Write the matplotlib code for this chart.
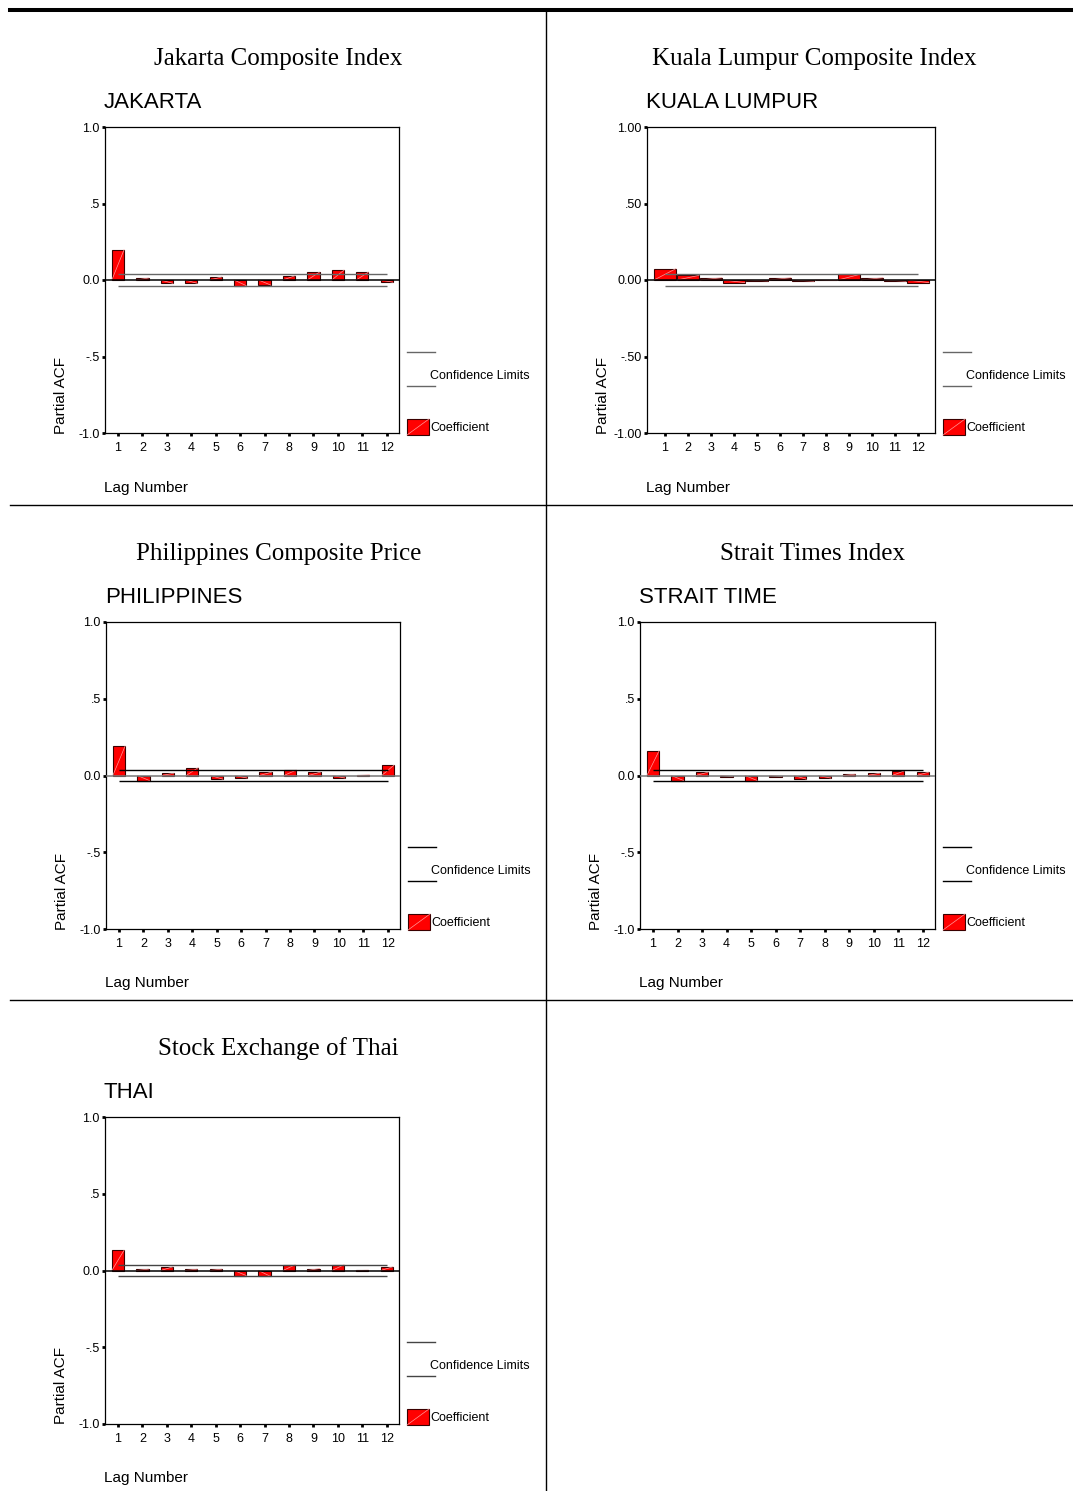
import matplotlib
matplotlib.use("Agg")
import matplotlib.pyplot as plt
from matplotlib.lines import Line2D
from matplotlib.patches import Rectangle

plt.rcParams['font.family'] = ['Liberation Sans', 'DejaVu Sans']

# ---- data ----
lags = [1, 2, 3, 4, 5, 6, 7, 8, 9, 10, 11, 12]

jakarta_pacf = [0.198, 0.013, -0.022, -0.022, 0.020, -0.037, -0.033, 0.028, 0.052, 0.065, 0.052, -0.015]
kuala_pacf = [0.074, 0.030, 0.015, -0.017, -0.006, 0.015, -0.008, -0.003, 0.037, 0.015, -0.008, -0.017]
phil_pacf = [0.191, -0.033, 0.015, 0.052, -0.024, -0.017, 0.022, 0.035, 0.022, -0.017, 0.004, 0.067]
strait_pacf = [0.161, -0.033, 0.022, -0.007, -0.033, -0.007, -0.024, -0.017, 0.009, 0.015, 0.030, 0.022]
thai_pacf = [0.132, 0.009, 0.024, 0.009, 0.009, -0.033, -0.039, 0.037, 0.013, 0.037, 0.002, 0.024]

conf_upper = [0.037, 0.037, 0.036, 0.037, 0.037]
conf_lower = [-0.037, -0.037, -0.038, -0.038, -0.038]

titles = ["Jakarta Composite Index", "Kuala Lumpur Composite Index",
          "Philippines Composite Price", "Strait Times Index",
          "Stock Exchange of Thai"]
series_names = ["JAKARTA", "KUALA LUMPUR", "PHILIPPINES", "STRAIT TIME", "THAI"]
ytick_vals = [1.0, 0.5, 0.0, -0.5, -1.0]
ytick_short = ["1.0", ".5", "0.0", "-.5", "-1.0"]
ytick_long = ["1.00", ".50", "0.00", "-.50", "-1.00"]

W, H = 1073, 1491

def fx(x):
    return x / W

def fy(y):
    return 1 - y / H

fig = plt.figure(figsize=(W / 100, H / 100), dpi=100)

# panel layout in pixels: axes left, top, right, bottom, title centre x
panels = [
    dict(vals=jakarta_pacf, box=(105, 127, 399, 433), tx=278, width=0.5,
         xlim=(0.47, 12.5), ticks=ytick_short, zero='black', conf='#666666'),
    dict(vals=kuala_pacf, box=(647, 127, 935, 433), tx=814, width=0.95,
         xlim=(0.22, 12.74), ticks=ytick_long, zero='black', conf='#666666'),
    dict(vals=phil_pacf, box=(106, 622, 400, 929), tx=279, width=0.5,
         xlim=(0.47, 12.5), ticks=ytick_short, zero='#777777', conf='black'),
    dict(vals=strait_pacf, box=(640, 622, 935, 929), tx=813, width=0.5,
         xlim=(0.47, 12.5), ticks=ytick_short, zero='#777777', conf='black'),
    dict(vals=thai_pacf, box=(105, 1117, 399, 1424), tx=278, width=0.5,
         xlim=(0.47, 12.5), ticks=ytick_short, zero='black', conf='#444444'),
]

for i, p in enumerate(panels):
    l, t, r, b = p['box']
    ax = fig.add_axes([fx(l), fy(b), (r - l) / W, (b - t) / H])
    vals = p['vals']
    w = p['width']
    ax.bar(lags, vals, width=w, color='#ff0000', edgecolor='#3a0000',
           linewidth=0.8, zorder=2)
    for x, v in zip(lags, vals):
        ax.plot([x - w / 2, x + w / 2], [0, v], color='#ff9a9a', lw=0.5, zorder=3)
    ax.axhline(0, color=p['zero'], lw=1.1, zorder=4)
    ax.hlines([conf_upper[i], conf_lower[i]], lags[0], lags[-1],
              colors=p['conf'], lw=1.0, zorder=4)
    ax.set_xlim(*p['xlim'])
    ax.set_ylim(-1.0, 1.0)
    ax.set_xticks(lags)
    ax.set_xticklabels([str(k) for k in lags])
    ax.set_yticks(ytick_vals)
    ax.set_yticklabels(p['ticks'])
    ax.tick_params(direction='out', length=2.2, width=2, labelsize=9)
    ax.tick_params(axis='x', pad=4.5)
    ax.tick_params(axis='y', pad=1.5)
    for s in ax.spines.values():
        s.set_linewidth(0.9)

    # texts
    fig.text(fx(p['tx']), fy(t - 68), titles[i], ha='center', va='center',
             fontsize=18, family='Liberation Serif')
    fig.text(fx(l - 1), fy(t - 25), series_names[i], ha='left', va='center',
             fontsize=16)
    fig.text(fx(l - 44), fy(t + 269), "Partial ACF", ha='center', va='center',
             rotation=90, fontsize=11)
    fig.text(fx(l - 1), fy(t + 361), "Lag Number", ha='left', va='center',
             fontsize=11)

    # legend
    lx = r + 8
    for dy in (225, 259):
        fig.add_artist(Line2D([fx(lx), fx(lx + 28)], [fy(t + dy), fy(t + dy)],
                              color=p['conf'], lw=1.0))
    fig.text(fx(lx + 23), fy(t + 249), "Confidence Limits", ha='left',
             va='center', fontsize=9)
    fig.add_artist(Rectangle((fx(lx), fy(t + 308)), 22 / W, 16 / H,
                             facecolor='#ff0000', edgecolor='#3a0000', lw=0.8,
                             transform=fig.transFigure))
    fig.add_artist(Line2D([fx(lx), fx(lx + 22)], [fy(t + 308), fy(t + 292)],
                          color='#ff9a9a', lw=0.5))
    fig.text(fx(lx + 23), fy(t + 301), "Coefficient", ha='left', va='center',
             fontsize=9)

# page rules
fig.add_artist(Line2D([fx(10), fx(1073)], [fy(9.5), fy(9.5)], color='black', lw=2.9))
fig.add_artist(Line2D([fx(546), fx(546)], [fy(11), fy(1491)], color='black', lw=1.0))
for yy in (505, 1000):
    fig.add_artist(Line2D([fx(10), fx(1073)], [fy(yy), fy(yy)], color='black', lw=1.0))

fig.savefig('out.png', dpi=100)
